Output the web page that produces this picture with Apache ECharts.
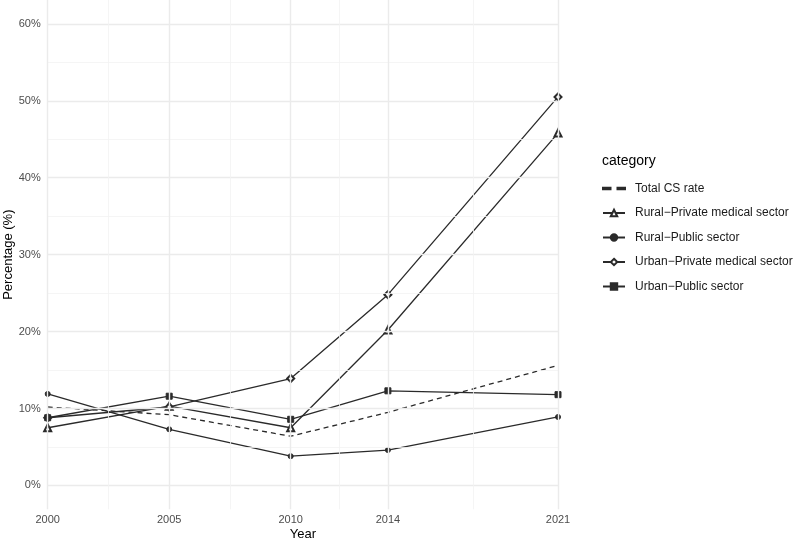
<!DOCTYPE html>
<html>
<head>
<meta charset="utf-8">
<script src="https://cdn.jsdelivr.net/npm/echarts@6/dist/echarts.min.js"></script>
<style>html,body{margin:0;padding:0;background:#fff;}#c{width:797px;height:541px;}</style>
</head>
<body>
<div id="c"></div>
<script>
const years = [2000, 2005, 2010, 2014, 2021];
const xTicks = [2000, 2005, 2010, 2014, 2021];
const xMinor = [2002.5, 2007.5, 2012, 2017.5];
const yTicks = [0, 10, 20, 30, 40, 50, 60];
const yMinor = [5, 15, 25, 35, 45, 55];
const totalCS = [10.2, 9.2, 6.4, 9.5, 15.6];
const ruralPrivate = [7.5, 10.3, 7.5, 20.2, 45.8];
const ruralPublic = [11.9, 7.3, 3.8, 4.6, 8.9];
const urbanPrivate = [8.8, 10.2, 13.9, 24.8, 50.5];
const urbanPublic = [8.8, 11.6, 8.6, 12.3, 11.8];
const seriesNames = ['Total CS rate', 'Rural\u2212Private medical sector', 'Rural\u2212Public sector', 'Urban\u2212Private medical sector', 'Urban\u2212Public sector'];

const FONT = '"Liberation Sans", Arial, sans-serif';
const LINE = '#2a2a2a';
const pair = arr => years.map((y, i) => [y, arr[i]]);

const gridLines = [];
yTicks.forEach(v => gridLines.push({ yAxis: v, lineStyle: { color: '#ebebeb', width: 1.4, type: 'solid' } }));
yMinor.forEach(v => gridLines.push({ yAxis: v, lineStyle: { color: '#f3f3f3', width: 0.8, type: 'solid' } }));
xTicks.forEach(v => gridLines.push({ xAxis: v, lineStyle: { color: '#ebebeb', width: 1.4, type: 'solid' } }));
xMinor.forEach(v => gridLines.push({ xAxis: v, lineStyle: { color: '#f3f3f3', width: 0.8, type: 'solid' } }));

function lineSeries(name, data, symbol, size, dashed) {
  return {
    name: name,
    type: 'line',
    data: pair(data),
    z: 3,
    symbol: symbol,
    symbolSize: size,
    showSymbol: symbol !== 'none',
    lineStyle: { color: LINE, width: 1.3, type: dashed ? [5, 4] : 'solid' },
    itemStyle: { color: LINE, borderColor: LINE, borderWidth: 1 },
    emphasis: { disabled: true },
    animation: false
  };
}

const legendData = seriesNames.map((n, i) => i === 0
  ? { name: n, icon: 'path://M0,0h7.5v1.3h-7.5z M14.5,0h7.5v1.3h-7.5z', itemStyle: { color: LINE } }
  : { name: n });

const chart = echarts.init(document.getElementById('c'));
chart.setOption({
  backgroundColor: '#ffffff',
  animation: false,
  title: {
    text: 'category',
    left: 597,
    top: 149,
    textStyle: { fontFamily: FONT, fontSize: 14, fontWeight: 'normal', color: '#000' }
  },
  legend: {
    orient: 'vertical',
    left: 597,
    top: 176.5,
    itemWidth: 22,
    itemHeight: 8,
    itemGap: 10.5,
    data: legendData,
    textStyle: { fontFamily: FONT, fontSize: 12, lineHeight: 14, color: '#1a1a1a', padding: [0, 0, 0, 5] },
    selectedMode: false
  },
  grid: { left: 47.7, right: 239, top: 0, bottom: 31.7, containLabel: false, outerBoundsMode: 'none' },
  xAxis: {
    type: 'value',
    min: 2000,
    max: 2021,
    name: 'Year',
    nameLocation: 'middle',
    nameGap: 19,
    nameMoveOverlap: false,
    nameTextStyle: { fontFamily: FONT, fontSize: 13, color: '#000' },
    axisLine: { show: false },
    axisTick: { show: false },
    splitLine: { show: false },
    axisLabel: {
      customValues: xTicks,
      fontFamily: FONT, fontSize: 11, color: '#4d4d4d', margin: 5,
      formatter: v => String(v)
    }
  },
  yAxis: {
    type: 'value',
    min: -3.1,
    max: 63.1,
    name: 'Percentage (%)',
    nameLocation: 'middle',
    nameGap: 33,
    nameMoveOverlap: false,
    nameTextStyle: { fontFamily: FONT, fontSize: 13, color: '#000' },
    axisLine: { show: false },
    axisTick: { show: false },
    splitLine: { show: false },
    axisLabel: {
      customValues: yTicks,
      fontFamily: FONT, fontSize: 11, color: '#4d4d4d', margin: 7,
      formatter: v => Math.round(v) + '%'
    }
  },
  series: [
    {
      name: 'grid',
      type: 'line',
      data: [],
      z: 1,
      silent: true,
      markLine: { silent: true, symbol: 'none', label: { show: false }, animation: false, data: gridLines }
    },
    lineSeries(seriesNames[0], totalCS, 'none', 0, true),
    lineSeries(seriesNames[1], ruralPrivate, 'emptyTriangle', 7, false),
    lineSeries(seriesNames[2], ruralPublic, 'circle', 5, false),
    lineSeries(seriesNames[3], urbanPrivate, 'emptyDiamond', 7, false),
    lineSeries(seriesNames[4], urbanPublic, 'rect', 6, false)
  ]
});
</script>
</body>
</html>
